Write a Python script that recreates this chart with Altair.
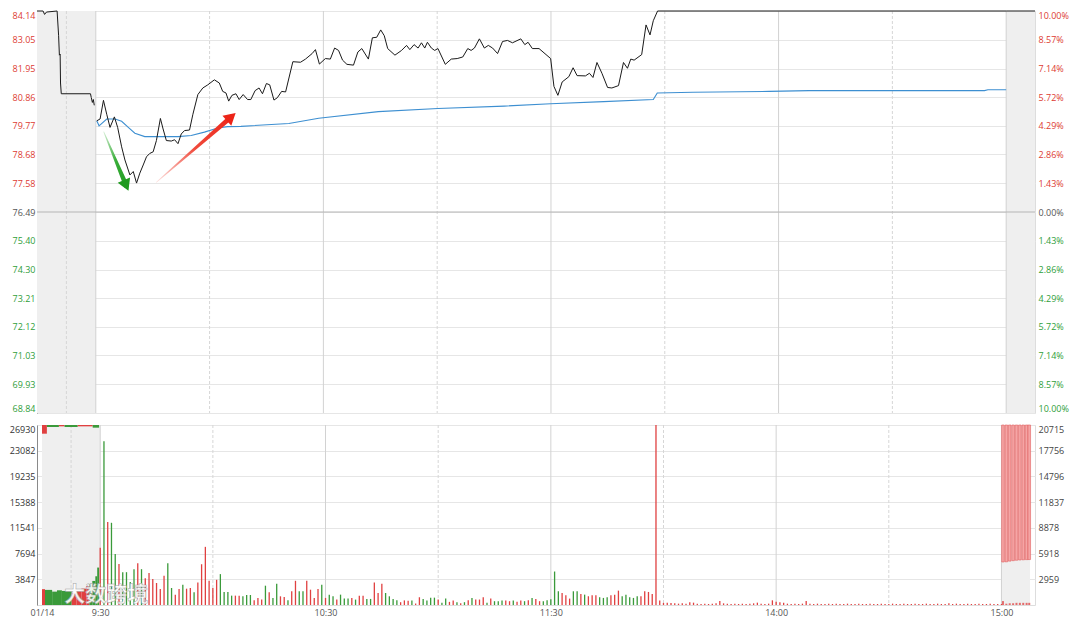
import altair as alt
import pandas as pd

# ---------------- data ----------------
PREV_CLOSE = 76.49
LIMIT_UP = 84.14
LIMIT_DOWN = 68.84

price_ticks = [68.84, 69.93, 71.03, 72.12, 73.21, 74.30, 75.40, 76.49,
               77.58, 78.68, 79.77, 80.86, 81.95, 83.05, 84.14]
pct_labels = ["10.00%", "8.57%", "7.14%", "5.72%", "4.29%", "2.86%", "1.43%", "0.00%",
              "1.43%", "2.86%", "4.29%", "5.72%", "7.14%", "8.57%", "10.00%"]
vol_ticks_left = [3847, 7694, 11541, 15388, 19235, 23082, 26930]
vol_ticks_right = [2959, 5918, 8878, 11837, 14796, 17756, 20715]
time_ticks = [-15.5, 0, 60, 120, 180, 240]
time_labels = ["01/14", "9:30", "10:30", "11:30", "14:00", "15:00"]
solid_lines = [0, 60, 120, 180, 240]
dashed_lines = [-7.75, 30, 90, 150, 210]
X_MIN, X_MAX = -15.5, 247.6
shade_start = [-15.5, 240]
shade_end = [0, 247.6]

# call-auction price (minutes relative to 9:30)
pre_min = [-15.5, -13.9, -13.5, -13.0, -10.2, -9.8, -9.6, -9.4, -9.3, -9.1,
           -1.4, -1.2, -0.9, -0.65, -0.4]
pre_price = [84.14, 84.14, 84.01, 84.10, 84.14, 83.20, 82.46, 82.50, 81.40, 80.99,
             80.99, 80.85, 80.66, 80.77, 80.55]

# intraday price
day_min = [0.26, 1.13, 2.02, 2.88, 3.75, 4.90, 5.76, 6.81, 7.68, 8.99,
           9.88, 10.74, 11.61, 12.50, 13.36, 14.23, 15.12, 15.98, 17.03, 17.74,
           18.60, 19.91, 20.78, 21.67, 22.53, 23.40, 24.71, 25.60, 26.91, 28.22,
           29.53, 31.26, 32.56, 33.46, 34.32, 35.03, 35.89, 36.94, 37.80, 38.85,
           40.01, 40.87, 42.00, 43.04, 43.94, 44.98, 45.85, 46.97, 47.86, 48.99,
           50.04, 51.95, 53.97, 55.28, 57.03, 57.90, 58.95, 60.52, 61.83, 62.96,
           64.00, 65.05, 66.20, 67.93, 69.09, 70.13, 71.86, 72.91, 74.06, 75.11,
           76.05, 76.95, 78.86, 80.61, 81.92, 82.79, 83.91, 84.96, 85.85, 86.72,
           87.42, 88.47, 89.34, 90.20, 92.14, 93.71, 95.28, 96.75, 98.06, 98.95,
           99.82, 101.13, 102.44, 103.48, 104.61, 105.92, 107.23, 108.54, 109.85, 112.05,
           113.10, 113.96, 115.09, 116.85, 119.91, 120.78, 121.82, 122.95, 124.71, 125.83,
           126.88, 129.08, 130.13, 131.07, 132.12, 133.43, 134.92, 136.05, 137.80, 139.11,
           140.16, 141.03, 141.92, 143.91, 145.06, 146.11, 146.97, 148.10, 240.0, 247.6]
day_price = [79.96, 80.03, 80.74, 80.21, 79.71, 80.11, 79.71, 78.97, 78.47, 77.90,
             78.03, 77.59, 77.97, 78.28, 78.59, 78.72, 78.78, 79.21, 80.05, 79.65,
             79.21, 79.19, 79.24, 79.09, 79.46, 79.59, 79.61, 80.21, 80.96, 81.21,
             81.33, 81.52, 81.40, 81.08, 81.02, 80.71, 80.93, 80.99, 80.77, 80.96,
             80.77, 80.77, 81.11, 81.21, 80.99, 81.38, 81.33, 80.75, 80.84, 81.08,
             81.06, 82.21, 82.19, 82.31, 82.52, 82.67, 82.12, 82.33, 82.31, 82.73,
             82.64, 82.27, 82.11, 82.08, 82.58, 82.71, 82.31, 83.12, 83.14, 83.42,
             83.20, 82.71, 82.46, 82.64, 82.83, 82.67, 82.86, 82.73, 82.93, 82.73,
             82.95, 82.73, 82.64, 82.71, 82.11, 82.31, 82.33, 82.39, 82.71, 82.64,
             82.73, 83.08, 82.73, 82.83, 82.73, 82.52, 82.98, 83.02, 82.93, 83.08,
             82.86, 82.95, 82.71, 82.71, 82.33, 81.27, 80.93, 81.44, 81.64, 81.98,
             81.68, 81.67, 81.77, 81.61, 82.18, 81.77, 81.23, 81.21, 81.30, 82.18,
             81.96, 82.31, 82.27, 82.48, 83.61, 83.23, 83.77, 84.14, 84.14, 84.14]

# average price
avg_min = [0.26, 0.86, 2.88, 5.06, 6.81, 8.57, 10.30, 12.92, 16.43, 21.67,
           25.15, 28.64, 32.15, 34.77, 38.25, 50.90, 58.76, 74.48, 90.20, 107.68,
           119.91, 133.87, 146.97, 148.02, 157.45, 177.55, 188.03, 234.30, 235.18, 240.0]
avg_price = [79.96, 79.77, 80.03, 80.03, 79.94, 79.71, 79.49, 79.36, 79.36, 79.36,
             79.40, 79.53, 79.69, 79.74, 79.75, 79.86, 80.06, 80.31, 80.43, 80.52,
             80.61, 80.69, 80.77, 81.02, 81.05, 81.08, 81.11, 81.11, 81.14, 81.14]

# per-minute volume, minutes 0..240
vol = [8550, 24500, 12400, 12300, 7620, 6140, 4910, 4910, 3430, 5360,
       6250, 5360, 4020, 4770, 3880, 3290, 2400, 4370, 6250, 2540,
       1550, 2400, 3030, 2440, 2540, 1900, 3380, 6100, 8700, 3620,
       2540, 3770, 4620, 1950, 1950, 1400, 1400, 1400, 1300, 1500,
       1500, 710, 1060, 810, 2890, 1900, 1060, 3180, 1300, 1200,
       710, 2040, 3620, 2040, 2040, 3620, 2290, 1060, 2400, 3030,
       1060, 1550, 1300, 810, 1550, 960, 960, 1060, 810, 1400,
       1400, 910, 910, 3380, 1800, 3180, 1800, 1300, 910, 715,
       420, 690, 620, 665, 220, 1160, 910, 665, 1100, 1100,
       815, 320, 960, 470, 665, 420, 270, 420, 715, 1060,
       815, 815, 1160, 320, 960, 570, 570, 665, 665, 570,
       665, 470, 665, 570, 715, 1060, 910, 570, 570, 715,
       850, 5010, 2050, 1800, 1460, 960, 2050, 2050, 1650, 1550,
       1310, 1460, 1460, 1160, 1060, 1160, 1460, 1550, 2150, 1310,
       1550, 1160, 1060, 1310, 1310, 2050, 1950, 1650, 26930, 665,
       320, 320,
       300, 250, 200, 250, 200, 400, 350, 200, 150, 200,
       150, 200, 250, 600, 250, 200, 150, 200, 150, 200,
       150, 200, 250, 350, 200, 150, 200, 700, 500, 400,
       350, 200, 150, 200, 150, 200, 600, 200, 150, 200,
       150, 150, 200, 150, 200, 150, 150, 200, 150, 150,
       200, 150, 150, 200, 150, 150, 200, 150, 150, 200,
       150, 150, 200, 150, 150, 200, 150, 150, 200, 150,
       150, 200, 150, 150, 250, 150, 200, 150, 150, 200,
       150, 150, 200, 150, 150, 200, 150, 150, 150]
vol_dir = ("rgrggrgggg" "rgrrrrrrgg" "rrgrrgrrrr" "rrggggrrgg" "grrrgrggrr"
           "grrggrrrrg" "rggrgggrgr" "rggrrrgggg" "rrrgrrgggg" "rggrrgrgrg"
           "rrrgrgggrr" "grrgrgrrgg" "gggrrrggrg" "rrrgggrrrg" "ggggrrrrrr"
           "rr") + "r" * 89

# call-auction volume blocks
pre_vol_start = [-15.5, -14.7, -12.8, -11.5, -10.2, -7.6, -6.3, -5.0, -3.7, -2.9, -2.1, -1.3, -0.8]
pre_vol_end = [-14.7, -12.8, -11.5, -10.2, -7.6, -6.3, -5.0, -3.7, -2.9, -2.1, -1.3, -0.8, -0.3]
pre_vol = [2370, 2260, 2000, 2200, 2100, 1800, 2100, 2450, 2850, 3100, 3600, 4300, 5600]
pre_vol_dir = "rggggrrrrgggg"
pre_top_start = [-15.5, -14.2, -11.0, -9.5, -6.0, -2.0]
pre_top_end = [-14.2, -11.0, -9.5, -6.0, -2.0, -0.3]
pre_top_depth = [1300, 300, 200, 300, 200, 400]
pre_top_dir = "rgrgrg"

# after-hours (right volume axis)
post_min = [240.4, 241.3, 242.2, 243.1, 244.0, 244.9, 245.8, 246.7, 247.4]
post_hang_bottom = [4950, 4970, 5050, 5100, 5150, 5180, 5200, 5220, 5230]
post_vol = [450, 150, 200, 200, 250, 250, 250, 250, 250]

# annotation arrows (minute, price)
green_arrow_m = [2.10, 8.01]
green_arrow_p = [79.54, 77.50]
red_arrow_m = [15.98, 35.71]
red_arrow_p = [77.62, 80.11]
arrow_width = [0.8, 5.0]

# ---------------- styling ----------------
W, H1, H2 = 998, 402, 180
EXT_L, EXT_R = 28, 36
FONT = "Open Sans"
FS = 9
RED_TXT, GREEN_TXT, GRAY_TXT = "#dd3b32", "#2f9e3a", "#555555"
RED_BAR, GREEN_BAR = "#e46c6c", "#55a455"
RED_SOLID, GREEN_SOLID = "#e04040", "#3a9a3a"

xscale = alt.Scale(domain=[X_MIN, X_MAX], nice=False, zero=False)
pscale = alt.Scale(domain=[LIMIT_DOWN, LIMIT_UP], nice=False, zero=False)
vscale = alt.Scale(domain=[0, 26930], nice=False, zero=True)
rscale = alt.Scale(domain=[0, 20715], nice=False, zero=True)
dir_color = alt.Color("d:N", scale=alt.Scale(domain=["r", "g"], range=[RED_BAR, GREEN_BAR]), legend=None)
dir_color_solid = alt.Color("d:N", scale=alt.Scale(domain=["r", "g"], range=[RED_SOLID, GREEN_SOLID]), legend=None)

price_label_color = {
    "condition": [{"test": "datum.value > 76.5", "value": RED_TXT},
                  {"test": "datum.value < 76.48", "value": GREEN_TXT}],
    "value": GRAY_TXT,
}
pct_expr = "[" + ",".join("'%s'" % s for s in pct_labels) + "][indexof([" + \
    ",".join(str(v) for v in price_ticks) + "], datum.value)]"
time_expr = "[" + ",".join("'%s'" % s for s in time_labels) + "][indexof([" + \
    ",".join(str(v) for v in time_ticks) + "], datum.value)]"

left_price_axis = alt.Axis(orient="left", values=price_ticks, format=".2f", title=None,
                           labelColor=price_label_color, labelFont=FONT, labelFontSize=FS,
                           labelFlush=True, ticks=False, labelPadding=2, grid=True,
                           gridColor="#e6e6e6", domain=True, domainColor="#8a8a8a",
                           minExtent=EXT_L, maxExtent=EXT_L)
right_price_axis = alt.Axis(orient="right", values=price_ticks, labelExpr=pct_expr, title=None,
                            labelColor=price_label_color, labelFont=FONT, labelFontSize=FS,
                            labelFlush=True, ticks=False, labelPadding=3, grid=False,
                            domain=False, minExtent=EXT_R, maxExtent=EXT_R)
left_vol_axis = alt.Axis(orient="left", values=vol_ticks_left, format="d", title=None,
                         labelColor="#333333", labelFont=FONT, labelFontSize=FS,
                         labelFlush=True, ticks=False, labelPadding=2, grid=True,
                         gridColor="#e6e6e6", domain=True, domainColor="#8a8a8a",
                         minExtent=EXT_L, maxExtent=EXT_L)
right_vol_axis = alt.Axis(orient="right", values=vol_ticks_right, format="d", title=None,
                          labelColor="#444444", labelFont=FONT, labelFontSize=FS,
                          labelFlush=True, ticks=False, labelPadding=3, grid=False,
                          domain=False, minExtent=EXT_R, maxExtent=EXT_R)
time_axis = alt.Axis(orient="bottom", values=time_ticks, labelExpr=time_expr, title=None,
                     labelColor="#555555", labelFont=FONT, labelFontSize=FS, labelFlush=False,
                     ticks=False, labelPadding=3, grid=False, domain=False)

# ---------------- data frames ----------------
shade_df = pd.DataFrame({"x0": shade_start, "x1": shade_end})
solid_df = pd.DataFrame({"m": solid_lines})
dash_df = pd.DataFrame({"m": dashed_lines})
price_df = pd.DataFrame({
    "m": pre_min + day_min,
    "p": pre_price + day_price,
    "seg": ["pre"] * len(pre_min) + ["day"] * len(day_min),
})
avg_df = pd.DataFrame({"m": avg_min, "p": avg_price})
zero_df = pd.DataFrame({"p": [PREV_CLOSE]})
garrow_df = pd.DataFrame({"m": green_arrow_m, "p": green_arrow_p, "s": arrow_width, "o": [0, 1]})
rarrow_df = pd.DataFrame({"m": red_arrow_m, "p": red_arrow_p, "s": arrow_width, "o": [0, 1]})
ghead_df = garrow_df.iloc[[1]]
rhead_df = rarrow_df.iloc[[1]]

vol_df = pd.DataFrame({"m": list(range(len(vol))), "v": vol, "d": list(vol_dir)})
prevol_df = pd.DataFrame({"x0": pre_vol_start, "x1": pre_vol_end, "v": pre_vol,
                          "z": [0] * len(pre_vol), "d": list(pre_vol_dir)})
pretop_df = pd.DataFrame({"x0": pre_top_start, "x1": pre_top_end,
                          "top": [26930] * len(pre_top_depth),
                          "bot": [26930 - d for d in pre_top_depth], "d": list(pre_top_dir)})
post_df = pd.DataFrame({"m": post_min, "top": [20715] * len(post_min),
                        "bot": post_hang_bottom, "v": post_vol})
wm_df = pd.DataFrame({"m": [1.6], "v": [1500], "t": ["大数跨境"]})


def make_x(axis):
    def xq(field):
        return alt.X(field, type="quantitative", scale=xscale, axis=axis)
    return xq


# ---------------- price panel ----------------
xp = make_x(None)


def vlines(xf, h):
    s = alt.Chart(solid_df).mark_rule(color="#d2d2d2", strokeWidth=1).encode(
        x=xf("m"), y=alt.value(0), y2=alt.value(h))
    d = alt.Chart(dash_df).mark_rule(color="#d6d6d6", strokeWidth=1, strokeDash=[3, 2]).encode(
        x=xf("m"), y=alt.value(0), y2=alt.value(h))
    return s, d


p_shade = alt.Chart(shade_df).mark_rect(color="#efefef").encode(
    x=xp("x0"), x2="x1", y=alt.value(0), y2=alt.value(H1))
p_vs, p_vd = vlines(xp, H1)
p_main_axis = alt.Chart(price_df).mark_line(opacity=0).encode(
    x=xp("m"), y=alt.Y("p:Q", scale=pscale, axis=left_price_axis), detail="seg:N")
p_right_axis = alt.Chart(price_df).mark_line(opacity=0).encode(
    x=xp("m"), y=alt.Y("p:Q", scale=pscale, axis=right_price_axis), detail="seg:N")
p_zero = alt.Chart(zero_df).mark_rule(color="#b5b5b5", strokeWidth=1.2).encode(
    y=alt.Y("p:Q", scale=pscale, axis=None))
p_avg = alt.Chart(avg_df).mark_line(color="#3d8fd1", strokeWidth=1.1).encode(
    x=xp("m"), y=alt.Y("p:Q", scale=pscale, axis=None))
p_line = alt.Chart(price_df).mark_line(color="#1a1a1a", strokeWidth=1).encode(
    x=xp("m"), y=alt.Y("p:Q", scale=pscale, axis=None), detail="seg:N")

g_grad = {"gradient": "linear", "x1": 0, "y1": 0, "x2": 1, "y2": 1,
          "stops": [{"offset": 0, "color": "#d8f0d8"}, {"offset": 0.5, "color": "#3aae3a"},
                    {"offset": 1, "color": "#1e9a1e"}]}
r_grad = {"gradient": "linear", "x1": 0, "y1": 1, "x2": 1, "y2": 0,
          "stops": [{"offset": 0, "color": "#fde6e4"}, {"offset": 0.5, "color": "#f04a3c"},
                    {"offset": 1, "color": "#ec2418"}]}
g_shaft = alt.Chart(garrow_df).mark_trail(color=g_grad).encode(
    x=xp("m"), y=alt.Y("p:Q", scale=pscale, axis=None),
    size=alt.Size("s:Q", scale=None, legend=None), order="o:Q")
r_shaft = alt.Chart(rarrow_df).mark_trail(color=r_grad).encode(
    x=xp("m"), y=alt.Y("p:Q", scale=pscale, axis=None),
    size=alt.Size("s:Q", scale=None, legend=None), order="o:Q")
g_head = alt.Chart(ghead_df).mark_point(shape="triangle-up", filled=True, size=180, angle=157,
                                        color="#1e9a1e", opacity=1).encode(
    x=xp("m"), y=alt.Y("p:Q", scale=pscale, axis=None))
r_head = alt.Chart(rhead_df).mark_point(shape="triangle-up", filled=True, size=180, angle=49,
                                        color="#ec2418", opacity=1).encode(
    x=xp("m"), y=alt.Y("p:Q", scale=pscale, axis=None))

price_chart = alt.layer(
    p_shade, p_vs, p_vd, p_main_axis, p_right_axis, p_zero, p_avg, p_line,
    g_shaft, r_shaft, g_head, r_head
).resolve_axis(y="independent").properties(width=W, height=H1)

# ---------------- volume panel ----------------
xv = make_x(time_axis)

v_shade = alt.Chart(shade_df).mark_rect(color="#efefef").encode(
    x=xv("x0"), x2="x1", y=alt.value(0), y2=alt.value(H2))
v_vs, v_vd = vlines(xv, H2)
v_pre = alt.Chart(prevol_df).mark_rect().encode(
    x=xv("x0"), x2="x1", y=alt.Y("v:Q", scale=vscale, axis=None), y2="z:Q", color=dir_color_solid)
v_pretop = alt.Chart(pretop_df).mark_rect().encode(
    x=xv("x0"), x2="x1", y=alt.Y("top:Q", scale=vscale, axis=None), y2="bot:Q", color=dir_color_solid)
v_bars = alt.Chart(vol_df).mark_bar(size=1.3).encode(
    x=xv("m"), y=alt.Y("v:Q", scale=vscale, axis=left_vol_axis), color=dir_color)
v_post_hang = alt.Chart(post_df).mark_bar(size=2.6, fill="#f5a5a5", stroke="#e26060",
                                          strokeWidth=0.6).encode(
    x=xv("m"), y=alt.Y("top:Q", scale=rscale, axis=right_vol_axis), y2="bot:Q")
v_post_small = alt.Chart(post_df).mark_bar(size=2.0, color=RED_BAR).encode(
    x=xv("m"), y=alt.Y("v:Q", scale=rscale, axis=None))
v_wm = alt.Chart(wm_df).mark_text(font="Noto Sans CJK SC", fontSize=21, fontWeight="bold",
                                  color="white", stroke="#9a9a9a", strokeWidth=0.5,
                                  opacity=0.9, align="center", baseline="middle").encode(
    x=xv("m"), y=alt.Y("v:Q", scale=vscale, axis=None), text="t:N")

vol_chart = alt.layer(
    v_shade, v_vs, v_vd, v_pre, v_pretop, v_bars, v_post_hang, v_post_small, v_wm
).resolve_scale(y="independent").properties(width=W, height=H2)

chart = alt.vconcat(price_chart, vol_chart, spacing=10).properties(
    padding={"left": 0, "top": 0, "right": 0, "bottom": 0}
).configure_view(stroke="#cfcfcf").configure(background="white")

chart.save("out.html", embed_options={"renderer": "svg", "actions": False})
